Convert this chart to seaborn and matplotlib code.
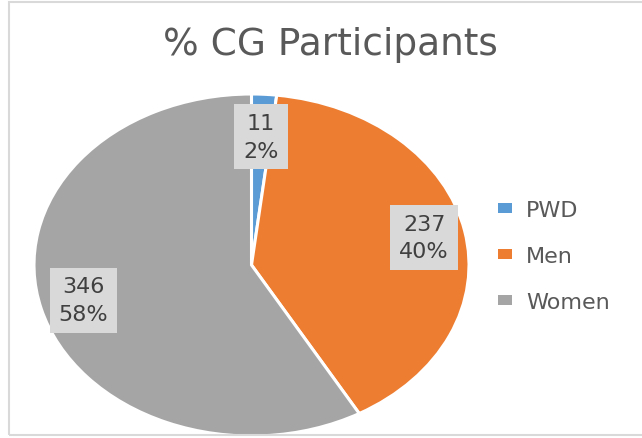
import numpy as np
import matplotlib
matplotlib.use("Agg")
import matplotlib.pyplot as plt
import seaborn as sns
from matplotlib.patches import Rectangle

# data
categories = ["PWD", "Men", "Women"]
counts = [11, 237, 346]
colors = ["#5B9BD5", "#ED7D31", "#A5A5A5"]
label_radius = [0.75, 0.81, 0.80]

sns.set_theme(style="white")
plt.rcParams["font.family"] = ["DejaVu Sans"]

fig = plt.figure(figsize=(6.42, 4.39), dpi=100)
W, H = 642, 439
# stretched pie area (pixel box of the reference)
ax = fig.add_axes([34 / W, (H - 437) / H, 435 / W, 342 / H])

wedges, _ = ax.pie(counts, colors=colors, startangle=90, counterclock=False,
                   wedgeprops=dict(edgecolor="white", linewidth=2.2))
ax.set_aspect("auto")
ax.set_xlim(-1, 1)
ax.set_ylim(-1, 1)
ax.axis("off")

total = sum(counts)
for w, n, r in zip(wedges, counts, label_radius):
    ang = np.deg2rad((w.theta1 + w.theta2) / 2)
    pct = round(100 * n / total)
    ax.text(r * np.cos(ang), r * np.sin(ang), f"{n}\n{pct}%",
            ha="center", va="center", fontsize=16, color="#404040",
            linespacing=1.45,
            bbox=dict(boxstyle="square,pad=0.4", facecolor="#D9D9D9",
                      edgecolor="none"))

fig.text(330 / W, 1 - 45 / H, "% CG Participants", ha="center", va="center",
         fontsize=27, color="#595959")

leg = fig.legend(wedges, categories, loc="center left",
                 bbox_to_anchor=(498 / W, 1 - 257 / H), frameon=False,
                 fontsize=16, handlelength=0.65, handleheight=0.32,
                 labelspacing=1.15, handletextpad=0.6, borderpad=0,
                 borderaxespad=0)
for t in leg.get_texts():
    t.set_color("#595959")
for h in leg.legend_handles:
    h.set_edgecolor("none")

fig.patches.append(Rectangle((9 / W, 3 / H), 1.0, (436 - 3) / H,
                             transform=fig.transFigure, fill=False,
                             edgecolor="#D9D9D9", linewidth=1.5))

fig.savefig("out.png", dpi=100)
